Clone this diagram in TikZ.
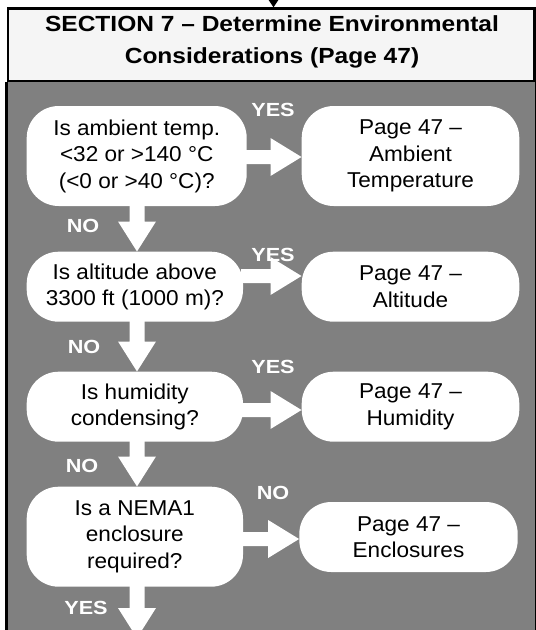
\documentclass[tikz,border=0pt]{standalone}
\usepackage{fontspec}
\setmainfont{Liberation Sans}
\newfontfamily\ndfont[FakeStretch=1.05]{Liberation Sans}
\newfontfamily\lbfont[FakeStretch=1.14]{Liberation Sans}
\newfontfamily\ttlfont[FakeStretch=1.12]{Liberation Sans}
\usetikzlibrary{calc}
\definecolor{panelgray}{HTML}{808080}
\definecolor{titlefill}{HTML}{F5F5F5}
\newcommand\hblockarrow[2]{\fill[white] let \p1=(#1), \p2=(#2) in
  (\x1-2pt,\y1+7pt) -- (\x2-31pt,\y1+7pt) -- (\x2-31pt,\y1+19pt) -- (\x2,\y1)
  -- (\x2-31pt,\y1-19pt) -- (\x2-31pt,\y1-7pt) -- (\x1-2pt,\y1-7pt) -- cycle;}
\newcommand\vblockarrow[2]{\fill[white] let \p1=(#1), \p2=(#2) in
  (\x1-7.5pt,\y1+2pt) -- (\x1-7.5pt,\y2+30pt) -- (\x1-19pt,\y2+30pt) -- (\x1,\y2)
  -- (\x1+19pt,\y2+30pt) -- (\x1+7.5pt,\y2+30pt) -- (\x1+7.5pt,\y1+2pt) -- cycle;}
\begin{document}
\begin{tikzpicture}[x=1pt,y=-1pt,
  qbox/.style={fill=white, rounded corners=32pt, align=center, inner sep=0pt,
    font={\ndfont\fontsize{21.5}{26.5}\selectfont}},
  lbl/.style={text=white, inner sep=0pt, font={\lbfont\bfseries\fontsize{19}{22}\selectfont}},
  titlebox/.style={draw=black, line width=2.7pt, fill=titlefill, inner sep=0pt},
  titletext/.style={align=center, inner sep=0pt, font={\ttlfont\bfseries\fontsize{21.9}{32}\selectfont}},
]
\useasboundingbox (0,0) rectangle (536,630);
% panel
\fill[panelgray] (8,81) rectangle (534.7,645);
\node[titlebox, minimum width=526.7pt, minimum height=72.3pt] (title) at (271.35,44.85) {};
\draw[line width=2.7pt] (title.south west) -- ++(0,570);
\draw[line width=2.7pt] (title.south east) -- ++(0,570);
\node[titletext] (titletxt) at (272,41.5) {SECTION 7 – Determine Environmental\\Considerations (Page 47)};
% incoming arrow
\coordinate (inlet) at (273.5,-20);
\coordinate (intip) at (title.north -| 273.5,0);
\draw[line width=1.5pt] (inlet) -- ($(intip)+(0,-8)$);
\fill[black] let \p1=(intip) in (\x1,\y1) -- (\x1-6pt,\y1+9pt) -- (\x1+6pt,\y1+9pt) -- cycle;
% boxes
\node[qbox, minimum width=220pt, minimum height=100pt] (q1) at (136.7,156) {Is ambient temp.\\<32 or >140 °C\\(<0 or >40 °C)?};
\node[qbox, minimum width=217.6pt, minimum height=100pt] (a1) at (410.5,156) {Page 47 –\\Ambient\\Temperature};
\node[qbox, minimum width=216.3pt, minimum height=70pt] (q2) at (134.85,286.7) {Is altitude above\\3300 ft (1000 m)?};
\node[qbox, minimum width=217.6pt, minimum height=70pt] (a2) at (410.5,286.7) {Page 47 –\\Altitude};
\node[qbox, minimum width=216.3pt, minimum height=70pt] (q3) at (134.85,406.7) {Is humidity\\condensing?};
\node[qbox, minimum width=217.6pt, minimum height=70pt] (a3) at (410.5,406.7) {Page 47 –\\Humidity};
\node[qbox, minimum width=216.3pt, minimum height=100pt] (q4) at (134.85,536.7) {Is a NEMA1\\enclosure\\required?};
\node[qbox, minimum width=218.4pt, minimum height=70pt] (a4) at (408.5,537) {Page 47 –\\Enclosures};
% labels
\node[lbl] (y1) at (273,110) {YES};
\node[lbl] (n1) at (83,226) {NO};
\node[lbl] (y2) at (273,255) {YES};
\node[lbl] (n2) at (84,347) {NO};
\node[lbl] (y3) at (273,367) {YES};
\node[lbl] (n3) at (82,466) {NO};
\node[lbl] (n4) at (273,493) {NO};
\node[lbl] (y4) at (86,607.5) {YES};
% arrows
\hblockarrow{q1.east |- 0,157}{a1.west |- 0,157}
\hblockarrow{q2.east |- 0,276}{a2.west |- 0,276}
\hblockarrow{q3.east |- 0,410}{a3.west |- 0,410}
\hblockarrow{q4.east |- 0,539}{a4.west |- 0,539}
\coordinate (outlet) at (137,638);
\vblockarrow{q1.south -| 137,0}{q2.north -| 137,0}
\vblockarrow{q2.south -| 137,0}{q3.north -| 137,0}
\vblockarrow{q3.south -| 137,0}{q4.north -| 137,0}
\vblockarrow{q4.south -| 137,0}{outlet}
\end{tikzpicture}
\end{document}
